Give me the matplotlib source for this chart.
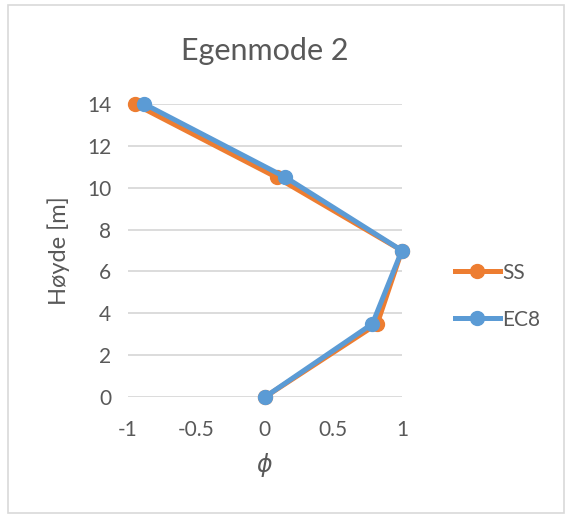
import matplotlib.pyplot as plt
from matplotlib.lines import Line2D

plt.rcParams['font.family'] = ['Lato', 'DejaVu Sans']

hoyde = [0, 3.5, 7, 10.5, 14]
phi_ss = [0, 0.82, 1.0, 0.085, -0.95]
phi_ec8 = [0, 0.785, 1.0, 0.15, -0.88]

x_ticks = [-1, -0.5, 0, 0.5, 1]
x_ticklabels = ["-1", "-0.5", "0", "0.5", "1"]
y_ticks = [0, 2, 4, 6, 8, 10, 12, 14]

orange = "#ed7d31"
blue = "#5b9bd5"
txt = "#595959"

fig = plt.figure(figsize=(5.66, 5.15), dpi=100)
ax = fig.add_axes([0.226, 0.229, 0.484, 0.569])

ax.plot(phi_ss, hoyde, color=orange, lw=3.6, marker="o", ms=10, label="SS", zorder=3, clip_on=False)
ax.plot(phi_ec8, hoyde, color=blue, lw=3.6, marker="o", ms=10, label="EC8", zorder=4, clip_on=False)

ax.set_xlim(-1, 1)
ax.set_ylim(0, 14)
ax.set_xticks(x_ticks)
ax.set_xticklabels(x_ticklabels)
ax.set_yticks(y_ticks)
ax.grid(axis="y", color="#d9d9d9", lw=1.3)
ax.set_axisbelow(True)
for s in ax.spines.values():
    s.set_visible(False)
ax.tick_params(length=0, labelsize=15, labelcolor=txt, pad=12)
for lab in ax.get_xticklabels():
    lab.set_y(-0.02)

ax.set_ylabel("Høyde [m]", fontsize=17, color=txt, labelpad=12)
ax.set_xlabel(r"$\phi$", fontsize=17, color=txt, labelpad=8)
ax.set_title("Egenmode 2", fontsize=22, color=txt, pad=32)

handles = [Line2D([0], [0], color=orange, lw=3.6, marker="o", ms=10),
           Line2D([0], [0], color=blue, lw=3.6, marker="o", ms=10)]
fig.legend(handles, ["SS", "EC8"], loc="center left", bbox_to_anchor=(0.77, 0.425),
           frameon=False, fontsize=15, labelcolor=txt, handlelength=2.2,
           handletextpad=0.1, labelspacing=1.3)

fig.patches.append(plt.Rectangle((0.014, 0.004), 0.982, 0.986, transform=fig.transFigure,
                                 fill=False, edgecolor="#d9d9d9", lw=1.2))

fig.savefig("out.png", dpi=100)
